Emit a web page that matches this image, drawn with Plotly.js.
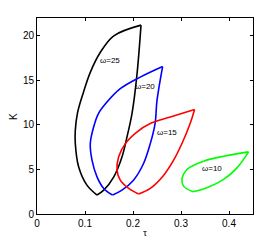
<!DOCTYPE html>
<html>
<head>
<meta charset="utf-8">
<script src="https://cdn.plot.ly/plotly-3.0.1.min.js"></script>
<style>html,body{margin:0;padding:0;background:#fff;}#chart{width:279px;height:242px;}</style>
</head>
<body>
<div id="chart"></div>
<script>
// omega = 25 : left branch (top -> cusp), right branch (cusp -> top)
const tau25L = [0.2167, 0.160, 0.132, 0.111, 0.097, 0.0846, 0.0798, 0.0798, 0.0867, 0.104, 0.125];
const k25L   = [21.2, 20.0, 18.15, 15.9, 13.7, 11.4, 9.4, 7.9, 5.3, 3.24, 2.13];
const tau25R = [0.125, 0.139, 0.160, 0.177, 0.1875, 0.198, 0.208, 0.2167];
const k25R   = [2.13, 2.68, 4.17, 6.4, 8.65, 11.3, 15.5, 21.2];
// omega = 20
const tau20L = [0.2617, 0.215, 0.1735, 0.1458, 0.128, 0.118, 0.111, 0.1146, 0.125, 0.139, 0.1575];
const k20L   = [16.55, 15.36, 14.06, 12.56, 11.27, 9.77, 7.9, 6.04, 4.17, 2.87, 2.13];
const tau20R = [0.1575, 0.177, 0.201, 0.222, 0.236, 0.246, 0.25, 0.2617];
const k20R   = [2.13, 2.68, 3.8, 5.67, 7.9, 10.15, 12.75, 16.55];
// omega = 15
const tau15L = [0.3283, 0.2777, 0.236, 0.208, 0.184, 0.170, 0.1667, 0.1735, 0.191, 0.2117];
const k15L   = [11.74, 10.88, 10.15, 9.2, 7.9, 6.4, 4.92, 3.8, 2.87, 2.24];
const tau15R = [0.2117, 0.236, 0.264, 0.2846, 0.305, 0.319, 0.3283];
const k15R   = [2.24, 2.87, 4.36, 6.04, 8.28, 10.15, 11.74];
// omega = 10
const tau10L = [0.4408, 0.3888, 0.347, 0.3125, 0.302, 0.3054, 0.325];
const k10L   = [6.97, 6.49, 5.93, 5.0, 3.88, 3.13, 2.49];
const tau10R = [0.325, 0.354, 0.3888, 0.4167, 0.4408];
const k10R   = [2.49, 2.94, 3.88, 5.18, 6.97];

const labels = ['\u03c9=25', '\u03c9=20', '\u03c9=15', '\u03c9=10'];
const labelTau = [0.153, 0.2256, 0.271, 0.3646];
const labelK = [17.2, 14.35, 9.17, 5.07];

const xTitle = '\u03c4';
const yTitle = 'K';

const xTicks = [0, 0.1, 0.2, 0.3, 0.4];
const xTickText = ['0', '0.1', '0.2', '0.3', '0.4'];
const yTicks = [0, 5, 10, 15, 20];

const branches = [
  [tau25L, k25L, '#000000'], [tau25R, k25R, '#000000'],
  [tau20L, k20L, '#0000ff'], [tau20R, k20R, '#0000ff'],
  [tau15L, k15L, '#ff0000'], [tau15R, k15R, '#ff0000'],
  [tau10L, k10L, '#00ff00'], [tau10R, k10R, '#00ff00']
];
const traces = branches.map(b => ({
  x: b[0], y: b[1], type: 'scatter', mode: 'lines',
  line: {color: b[2], width: 1.6, shape: 'spline', smoothing: 1},
  hoverinfo: 'skip', showlegend: false
}));

const annotations = labels.map((t, i) => ({
  x: labelTau[i], y: labelK[i], xref: 'x', yref: 'y', text: t, showarrow: false,
  font: {family: 'Liberation Sans, Arial, sans-serif', size: 8, color: '#000'}
}));
annotations.push({
  x: 0.5, y: -0.095, xref: 'paper', yref: 'paper', text: xTitle, showarrow: false,
  xanchor: 'center', yanchor: 'middle',
  font: {family: 'Liberation Serif, serif', size: 10, color: '#000'}
});
annotations.push({
  x: -0.106, y: 0.495, xref: 'paper', yref: 'paper', text: yTitle, showarrow: false,
  xanchor: 'center', yanchor: 'middle', textangle: -90,
  font: {family: 'Liberation Sans, Arial, sans-serif', size: 10, color: '#000'}
});

const axisCommon = {
  showgrid: false, zeroline: false, showline: true, linecolor: '#000', linewidth: 1,
  mirror: 'ticks', ticks: 'inside', ticklen: 3, tickcolor: '#000', tickwidth: 1,
  tickfont: {family: 'Liberation Sans, Arial, sans-serif', size: 10, color: '#000'}
};

const layout = {
  width: 279, height: 242,
  margin: {l: 37, r: 26, t: 18, b: 28, pad: 0},
  paper_bgcolor: '#fff', plot_bgcolor: '#fff',
  xaxis: Object.assign({}, axisCommon, {range: [0, 0.45], tickvals: xTicks, ticktext: xTickText}),
  yaxis: Object.assign({}, axisCommon, {range: [0, 22], tickvals: yTicks}),
  annotations: annotations
};

Plotly.newPlot('chart', traces, layout, {staticPlot: true, displayModeBar: false});
</script>
</body>
</html>
